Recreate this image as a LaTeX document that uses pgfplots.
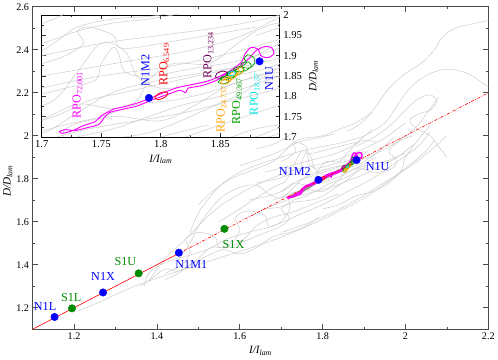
\documentclass[border=0pt]{standalone}
\usepackage{fontspec}
\setmainfont{Liberation Serif}
\usepackage{pgfplots}
\pgfplotsset{compat=1.18}

\definecolor{nblue}{RGB}{0,0,255}
\definecolor{sgreen}{RGB}{0,140,0}
\definecolor{rmag}{RGB}{255,0,255}
\definecolor{rpurp}{RGB}{110,0,90}
\definecolor{rorange}{RGB}{255,165,0}
\definecolor{rgreen}{RGB}{0,160,0}
\definecolor{rcyan}{RGB}{0,230,230}
\definecolor{trajgray}{RGB}{205,205,205}

\pgfplotsset{traj/.style={color=trajgray, line width=0.5pt, smooth, tension=0.6, no markers},
  rpow/.style={line width=0.9pt}}

% background trajectories (shared by main plot and inset)
\newcommand{\graylines}{%
\addplot[traj] coordinates {(1.21,1.185) (1.26,1.225) (1.31,1.27) (1.36,1.31) (1.42,1.35) (1.50,1.40) (1.58,1.45) (1.66,1.50) (1.74,1.56) (1.82,1.63) (1.90,1.71) (1.96,1.79) (2.02,1.87) (2.06,1.93) (2.10,2.00)};
\addplot[traj] coordinates {(1.37,1.30) (1.38,1.36) (1.42,1.41) (1.47,1.44) (1.52,1.47) (1.57,1.52) (1.62,1.55) (1.68,1.58) (1.74,1.63) (1.80,1.68) (1.86,1.74) (1.92,1.80) (1.98,1.88) (2.03,1.95) (2.06,2.02)};
\addplot[traj] coordinates {(1.38,1.32) (1.40,1.38) (1.43,1.45) (1.47,1.52) (1.51,1.60) (1.55,1.67) (1.60,1.73) (1.65,1.78) (1.70,1.82) (1.75,1.85) (1.80,1.87) (1.85,1.90) (1.90,1.94) (1.95,1.99) (2.00,2.06)};
\addplot[traj] coordinates {(1.42,1.36) (1.46,1.40) (1.48,1.46) (1.47,1.52) (1.50,1.55) (1.54,1.53) (1.55,1.48) (1.58,1.50) (1.60,1.56) (1.59,1.62) (1.62,1.65) (1.66,1.63) (1.67,1.58) (1.70,1.60) (1.72,1.66) (1.72,1.72) (1.76,1.75) (1.80,1.74) (1.83,1.78) (1.86,1.83) (1.90,1.86) (1.95,1.88) (2.00,1.92)};
\addplot[traj] coordinates {(1.45,1.42) (1.48,1.50) (1.50,1.58) (1.53,1.66) (1.56,1.72) (1.60,1.76) (1.64,1.77) (1.67,1.73) (1.70,1.71) (1.73,1.76) (1.76,1.81) (1.80,1.84) (1.84,1.86) (1.88,1.88) (1.92,1.91) (1.97,1.96) (2.02,2.03) (2.05,2.10) (2.08,2.18)};
\addplot[traj] coordinates {(1.48,1.55) (1.50,1.64) (1.53,1.72) (1.56,1.78) (1.60,1.83) (1.65,1.87) (1.70,1.90) (1.75,1.93) (1.80,1.95) (1.85,1.97) (1.90,2.00) (1.95,2.06) (1.98,2.14) (2.01,2.22) (2.05,2.28) (2.10,2.31) (2.15,2.29) (2.19,2.24) (2.21,2.22)};
\addplot[traj] coordinates {(1.86,2.02) (1.90,2.07) (1.93,2.14) (1.96,2.22) (2.00,2.29) (2.04,2.34) (2.07,2.40) (2.09,2.46) (2.12,2.50) (2.16,2.52) (2.21,2.54)};
\addplot[traj] coordinates {(1.88,1.95) (1.93,2.00) (1.97,2.06) (2.00,2.12) (2.03,2.17) (2.06,2.19) (2.075,2.16) (2.06,2.12) (2.03,2.10) (2.01,2.07) (2.03,2.03) (2.06,2.00) (2.08,1.95) (2.10,1.90)};
\addplot[traj] coordinates {(1.60,1.50) (1.65,1.54) (1.70,1.58) (1.72,1.62) (1.70,1.66) (1.73,1.69) (1.77,1.70) (1.80,1.72) (1.84,1.77) (1.87,1.81) (1.89,1.85) (1.92,1.83) (1.96,1.84) (1.98,1.88) (1.96,1.93) (1.99,1.98) (2.02,2.00)};
\addplot[traj] coordinates {(1.62,1.62) (1.66,1.66) (1.70,1.69) (1.74,1.72) (1.78,1.74) (1.82,1.76) (1.86,1.79) (1.90,1.82) (1.94,1.86) (1.98,1.90) (2.02,1.96)};
\addplot[traj] coordinates {(1.55,1.60) (1.60,1.66) (1.64,1.71) (1.68,1.76) (1.71,1.79) (1.73,1.86) (1.75,1.93) (1.77,1.91) (1.78,1.85) (1.80,1.82) (1.83,1.83) (1.86,1.85) (1.89,1.87) (1.93,1.92) (1.97,1.99)};
\addplot[traj] coordinates {(1.50,1.68) (1.54,1.75) (1.58,1.80) (1.63,1.84) (1.68,1.88) (1.71,1.93) (1.73,1.97) (1.76,1.99) (1.80,2.00) (1.84,2.03) (1.88,2.06) (1.92,2.11)};
\addplot[traj] coordinates {(1.70,1.55) (1.76,1.59) (1.82,1.64) (1.88,1.70) (1.93,1.76) (1.98,1.82) (2.02,1.88) (2.05,1.93) (2.07,1.98)};
\addplot[traj] coordinates {(1.36,1.30) (1.39,1.34) (1.42,1.38) (1.45,1.37) (1.48,1.40) (1.52,1.44) (1.56,1.47) (1.60,1.45) (1.64,1.48) (1.68,1.53) (1.72,1.55) (1.76,1.58) (1.79,1.62)};
\addplot[traj] coordinates {(1.70,1.74) (1.73,1.78) (1.76,1.77) (1.78,1.79) (1.79,1.84) (1.81,1.88) (1.84,1.88) (1.86,1.92) (1.88,1.96) (1.90,1.98) (1.93,1.97)};
\addplot[traj] coordinates {(1.66,1.83) (1.70,1.85) (1.74,1.87) (1.78,1.89) (1.82,1.91) (1.86,1.94) (1.89,1.98) (1.92,2.03)};
\addplot[traj] coordinates {(1.68,1.70) (1.72,1.73) (1.75,1.75) (1.78,1.78) (1.81,1.79) (1.84,1.81) (1.87,1.84) (1.90,1.87) (1.93,1.90)};
\addplot[traj] coordinates {(1.60,1.86) (1.66,1.90) (1.70,1.93) (1.73,1.96) (1.76,1.98) (1.79,1.99) (1.83,2.01)};
\addplot[traj] coordinates {(1.64,1.78) (1.69,1.80) (1.72,1.82) (1.745,1.84) (1.75,1.88) (1.76,1.92) (1.765,1.90) (1.77,1.86) (1.79,1.85) (1.83,1.87) (1.87,1.89) (1.91,1.93)};
\addplot[traj] coordinates {(1.62,1.70) (1.67,1.72) (1.71,1.75) (1.74,1.79) (1.77,1.81) (1.80,1.83) (1.83,1.85) (1.86,1.87) (1.88,1.90) (1.90,1.93)};
\addplot[traj] coordinates {(1.66,1.66) (1.70,1.67) (1.73,1.70) (1.76,1.72) (1.79,1.75) (1.82,1.78) (1.85,1.80) (1.88,1.83) (1.91,1.86)};
\addplot[traj] coordinates {(1.64,1.94) (1.68,1.96) (1.71,1.99) (1.73,2.02)};
\addplot[traj] coordinates {(1.70,1.88) (1.72,1.90) (1.735,1.93) (1.73,1.96) (1.74,1.97) (1.76,1.95) (1.765,1.92) (1.78,1.92) (1.80,1.93) (1.84,1.95) (1.88,1.97)};
\addplot[traj] coordinates {(1.42,1.33) (1.46,1.37) (1.50,1.43) (1.53,1.48) (1.57,1.48) (1.61,1.52) (1.64,1.58) (1.68,1.62) (1.72,1.64) (1.76,1.67) (1.80,1.70) (1.84,1.73)};
\addplot[traj] coordinates {(1.80,1.66) (1.84,1.68) (1.88,1.72) (1.92,1.74) (1.96,1.78) (1.99,1.84) (2.00,1.90) (2.03,1.98) (2.06,2.05)};
}

% periodic orbits
\newcommand{\rpolines}{%
\addplot[rmag, rpow, smooth, tension=0.5] coordinates {
(1.728,1.718) (1.722,1.712) (1.717,1.709) (1.715,1.714) (1.720,1.718) (1.728,1.716)
(1.737,1.722) (1.748,1.731) (1.752,1.746) (1.757,1.760) (1.768,1.768) (1.780,1.776)
(1.790,1.788) (1.800,1.799) (1.808,1.807) (1.816,1.815) (1.821,1.809) (1.823,1.820)
(1.834,1.826) (1.846,1.838) (1.855,1.855) (1.864,1.868) (1.874,1.893) (1.880,1.912)
(1.887,1.922) (1.893,1.920) (1.895,1.905) (1.890,1.895) (1.884,1.900) (1.882,1.915)
(1.876,1.920) (1.871,1.905) (1.868,1.885) (1.860,1.866) (1.850,1.850) (1.840,1.838)
(1.828,1.830) (1.815,1.822) (1.805,1.812) (1.795,1.800) (1.782,1.785) (1.770,1.775)
(1.760,1.768) (1.750,1.752) (1.745,1.738) (1.735,1.728) (1.728,1.718)};
\addplot[red, line width=0.8pt, smooth] coordinates {
(1.795,1.795) (1.798,1.792) (1.803,1.797) (1.806,1.806) (1.804,1.811) (1.799,1.808) (1.796,1.801) (1.795,1.795)};
\addplot[rpurp, line width=0.8pt, smooth] coordinates {
(1.846,1.847) (1.850,1.844) (1.855,1.850) (1.856,1.858) (1.852,1.862) (1.847,1.856) (1.846,1.847)};
\addplot[rgreen, line width=0.7pt, smooth] coordinates {
(1.848,1.835) (1.852,1.830) (1.857,1.836) (1.856,1.846) (1.851,1.848) (1.850,1.840)
(1.856,1.842) (1.862,1.848) (1.864,1.858) (1.858,1.862) (1.855,1.852) (1.861,1.850)
(1.867,1.856) (1.870,1.866) (1.866,1.873) (1.861,1.866) (1.866,1.860) (1.872,1.864)
(1.876,1.874) (1.874,1.884) (1.868,1.882) (1.868,1.872) (1.875,1.870) (1.879,1.882)
(1.878,1.896) (1.873,1.902) (1.870,1.892) (1.872,1.882) (1.866,1.870) (1.858,1.856)
(1.852,1.846) (1.848,1.835)};
\addplot[rorange, line width=0.7pt, smooth] coordinates {
(1.850,1.833) (1.855,1.830) (1.859,1.840) (1.857,1.848) (1.853,1.845) (1.856,1.838)
(1.862,1.845) (1.864,1.856) (1.860,1.860) (1.858,1.852) (1.864,1.852) (1.869,1.862)
(1.868,1.872) (1.864,1.868) (1.866,1.860) (1.858,1.846) (1.852,1.840) (1.850,1.833)};
\addplot[rcyan, line width=0.7pt, smooth] coordinates {
(1.857,1.852) (1.861,1.851) (1.863,1.858) (1.860,1.862) (1.857,1.857) (1.857,1.852)};
}

\begin{document}
\begin{tikzpicture}
\begin{axis}[
  scale only axis, width=448bp, height=317bp,
  xmin=1.1, xmax=2.2, ymin=1.1, ymax=2.6,
  xtick={1.2,1.4,1.6,1.8,2,2.2}, minor xtick={1.1,1.3,1.5,1.7,1.9,2.1},
  ytick={1.2,1.4,1.6,1.8,2,2.2,2.4,2.6}, minor ytick={1.1,1.3,1.5,1.7,1.9,2.1,2.3,2.5},
  tick align=inside, major tick length=5bp, minor tick length=2.5bp,
  axis line style={black!70, line width=0.7pt}, tick style={black!70, line width=0.6pt},
  ticklabel style={font=\fontsize{10}{12}\selectfont},
  /pgf/number format/assume math mode=true,
  xlabel={\itshape I/I\textsubscript{lam}}, ylabel={\itshape D/D\textsubscript{lam}},
  label style={font=\fontsize{11}{13}\selectfont},
  ylabel style={at={(ticklabel cs:0.46)}, yshift=-3bp},
  clip mode=individual,
  rpow/.style={line width=1.4pt},
]
\graylines
\addplot[gray!85, line width=3pt] coordinates {(1.725,1.716) (1.75,1.742) (1.79,1.79) (1.82,1.818) (1.85,1.846) (1.87,1.88) (1.885,1.905)};
\rpolines
\addplot[red, line width=0.6pt] coordinates {(1.1,1.1) (1.45,1.45)};
\addplot[red, line width=0.6pt, dash pattern=on 3pt off 1.5pt on 0.8pt off 1.5pt] coordinates {(1.45,1.45) (2.2,2.2)};
\addplot[only marks, mark=*, mark size=3.7pt, nblue] coordinates {(1.153,1.157) (1.270,1.271) (1.453,1.456) (1.790,1.795) (1.882,1.887)};
\addplot[only marks, mark=*, mark size=3.7pt, sgreen] coordinates {(1.195,1.197) (1.356,1.360) (1.563,1.567)};
\begin{scope}[font=\fontsize{12}{14}\selectfont]
\node[nblue] at (axis cs:1.130,1.208) {N1L};
\node[sgreen] at (axis cs:1.193,1.249) {S1L};
\node[nblue] at (axis cs:1.270,1.344) {N1X};
\node[sgreen] at (axis cs:1.324,1.414) {S1U};
\node[nblue] at (axis cs:1.483,1.399) {N1M1};
\node[sgreen] at (axis cs:1.585,1.494) {S1X};
\node[nblue] at (axis cs:1.733,1.832) {N1M2};
\node[nblue] at (axis cs:1.933,1.859) {N1U};
\end{scope}
\end{axis}

\begin{axis}[
  at={(9bp,189bp)}, anchor=south west,
  scale only axis, width=234bp, height=120bp,
  xmin=1.7, xmax=1.9, ymin=1.7, ymax=2,
  axis background/.style={fill=white},
  xtick={1.7,1.75,1.8,1.85}, minor xtick={1.725,1.775,1.825,1.875,1.9},
  ytick={1.7,1.75,1.8,1.85,1.9,1.95,2}, minor ytick={1.725,1.775,1.825,1.875,1.925,1.975},
  yticklabel pos=right,
  tick align=inside, major tick length=4bp, minor tick length=2bp,
  axis line style={black, line width=0.7pt}, tick style={black!80, line width=0.6pt},
  ticklabel style={font=\fontsize{10.5}{12}\selectfont},
  /pgf/number format/assume math mode=true,
  xlabel={\itshape I/I\textsubscript{lam}}, ylabel={\itshape D/D\textsubscript{lam}},
  label style={font=\fontsize{11}{13}\selectfont},
  clip mode=individual,
]
\graylines
\rpolines
\addplot[only marks, mark=*, mark size=3.7pt, nblue] coordinates {(1.790,1.796) (1.883,1.886)};
\begin{scope}[font=\fontsize{12}{14}\selectfont]
\node[rmag, rotate=90, anchor=west] at (axis cs:1.730,1.737) {RPO\textsubscript{72.001}};
\node[nblue, rotate=90, anchor=west] at (axis cs:1.787,1.815) {N1M2};
\node[red, rotate=90, anchor=west] at (axis cs:1.803,1.817) {RPO\textsubscript{6.549}};
\node[rpurp, rotate=90, anchor=west] at (axis cs:1.840,1.835) {RPO\textsubscript{13.234}};
\node[rorange, rotate=90, anchor=west] at (axis cs:1.851,1.703) {RPO\textsubscript{24.737}};
\node[rgreen, rotate=90, anchor=west] at (axis cs:1.864,1.722) {RPO\textsubscript{49.367}};
\node[rcyan, rotate=90, anchor=west] at (axis cs:1.879,1.745) {RPO\textsubscript{18.37}};
\node[nblue, rotate=90, anchor=west] at (axis cs:1.891,1.806) {N1U};
\end{scope}
\end{axis}
\end{tikzpicture}
\end{document}
